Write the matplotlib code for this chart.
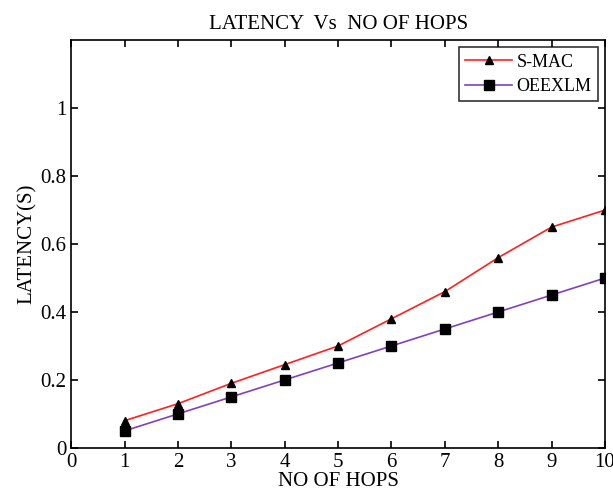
import matplotlib.pyplot as plt
import numpy as np

plt.rcParams['font.family'] = ['Liberation Serif', 'DejaVu Serif']

hops = [1, 2, 3, 4, 5, 6, 7, 8, 9, 10]
smac = [0.08, 0.13, 0.19, 0.245, 0.30, 0.38, 0.46, 0.56, 0.65, 0.70]
oeexlm = [0.05, 0.10, 0.15, 0.20, 0.25, 0.30, 0.35, 0.40, 0.45, 0.50]

fig = plt.figure(figsize=(6.13, 4.96), dpi=100)
ax = fig.add_axes([0.116, 0.097, 0.871, 0.822])

ax.plot(hops, smac, color='#ff2020', lw=1.2, marker='^', ms=6,
        mfc='black', mec='black', label='S-MAC')
ax.plot(hops, oeexlm, color='#8040c0', lw=1.2, marker='s', ms=6.5,
        mfc='black', mec='black', label='OEEXLM')

ax.set_xlim(0, 10)
ax.set_ylim(0, 1.2)
ax.set_xticks(np.arange(0, 11, 1))
ax.set_yticks([0, 0.2, 0.4, 0.6, 0.8, 1])
ax.set_yticklabels(['0', '0.2', '0.4', '0.6', '0.8', '1'])
ax.tick_params(direction='in', top=True, right=True, labelsize=15, length=5, width=1.2)
for s in ax.spines.values():
    s.set_linewidth(1.2)

ax.set_title('LATENCY  Vs  NO OF HOPS', fontsize=15, pad=8)
ax.set_xlabel('NO OF HOPS', fontsize=15, labelpad=0)
ax.set_ylabel('LATENCY(S)', fontsize=15, labelpad=2)

leg = ax.legend(loc='upper right', fontsize=13, frameon=True, fancybox=False,
                edgecolor='black', borderaxespad=0.4, handlelength=2.6,
                labelspacing=0.4, borderpad=0.35, handletextpad=0.25)
leg.get_frame().set_linewidth(1.2)

fig.savefig('out.png', dpi=100)
